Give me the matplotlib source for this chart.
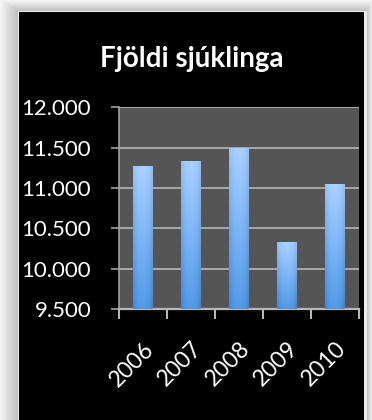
import numpy as np
import matplotlib
matplotlib.use("Agg")
import matplotlib.pyplot as plt
from matplotlib.ticker import FuncFormatter

years = ["2006", "2007", "2008", "2009", "2010"]
patients = [11270, 11340, 11490, 10330, 11045]
y_ticks = [9500, 10000, 10500, 11000, 11500, 12000]
title = "Fjöldi sjúklinga"

W, H = 372, 420
fig = plt.figure(figsize=(W / 100, H / 100), dpi=100)
fig.patch.set_facecolor("#f0f0f0")

# background frame: light border with soft shadow and black panel
bg = fig.add_axes([0, 0, 1, 1], zorder=-5)
bg.axis("off")
xx = np.arange(W)[None, :]
yy = np.arange(H)[:, None]
dl = np.clip((18 - xx) / 18, 0, 1)
dt = np.clip((11 - yy) / 11, 0, 1)
dr = np.clip((xx - 366) / 6, 0, 1)
shade = 0.74 + 0.22 * np.maximum(np.maximum(dl, dt), dr)
img = np.repeat(shade[..., None], 3, axis=2)
img[11:, 18:367] = 0.93
img[12:, 19:364] = 0.0
bg.imshow(img, extent=[0, W, H, 0], aspect="auto", interpolation="nearest")
bg.set_xlim(0, W)
bg.set_ylim(H, 0)

ax = fig.add_axes([119 / W, (H - 309) / H, (359 - 119) / W, (309 - 107.3) / H])
ax.set_facecolor("#555555")
x = np.arange(len(years))
bars = ax.bar(x, patients, width=0.4, color="#5a9ae0", zorder=2)
ax.set_xlim(-0.5, len(years) - 0.5)
ax.set_ylim(y_ticks[0], y_ticks[-1])
ax.set_yticks(y_ticks)
ax.yaxis.set_major_formatter(FuncFormatter(lambda v, p: f"{int(v):,}".replace(",", ".")))
ax.grid(axis="y", color="#a8a8a8", linewidth=1.4, zorder=1)
ax.set_axisbelow(True)

# gradient fill of each bar
h = np.linspace(0, 1, 100)[:, None]
w = np.linspace(-1, 1, 40)[None, :]
top = np.array([150, 190, 238]) / 255
bot = np.array([62, 135, 212]) / 255
col = bot + (top - bot) * h[..., None]
col = col + 0.08 * (1 - w[..., None] ** 2)
col = np.clip(col, 0, 1)
for b in bars:
    bx, by = b.get_x(), b.get_y()
    bw, bh = b.get_width(), b.get_height()
    im = ax.imshow(col, extent=[bx, bx + bw, y_ticks[0], by + bh], origin="lower",
                   aspect="auto", zorder=3)
    im.set_clip_path(b)
ax.set_xlim(-0.5, len(years) - 0.5)
ax.set_ylim(y_ticks[0], y_ticks[-1])

for s in ["top", "right"]:
    ax.spines[s].set_visible(False)
ax.spines["left"].set_color("#a0a0a0")
ax.spines["bottom"].set_color("#b8b8b8")
ax.spines["left"].set_linewidth(1.2)
ax.spines["bottom"].set_linewidth(1.6)

ax.set_xticks(np.arange(-0.5, len(years), 1.0), minor=False)
ax.set_xticklabels([])
ax.set_xticks(x, minor=True)
ax.set_xticklabels(years, minor=True, rotation=45, ha="right", va="top",
                   rotation_mode="anchor", fontsize=16.5, family="Lato", color="white")
ax.tick_params(axis="x", which="minor", length=0, pad=21)
ax.tick_params(axis="x", which="major", length=7, color="#b8b8b8", width=1.5)
ax.tick_params(axis="y", length=6, color="#a0a0a0", width=1.2, pad=14,
               labelsize=16, labelcolor="white")
for t in ax.get_yticklabels():
    t.set_family("Lato")

fig.text(192 / W, 1 - 59 / H, title, ha="center", va="center", color="white",
         fontsize=20, fontweight="bold", family="Lato")

fig.savefig("out.png", dpi=100, facecolor=fig.get_facecolor())
